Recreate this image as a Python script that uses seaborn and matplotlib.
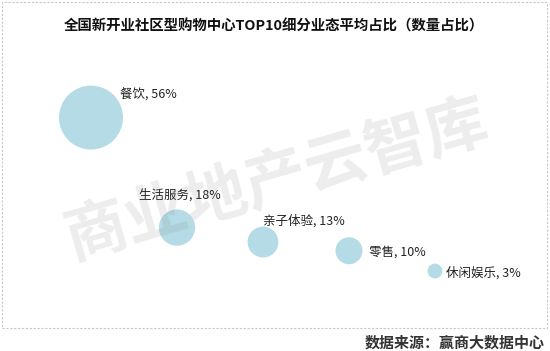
import pandas as pd
import matplotlib
matplotlib.use('Agg')
import matplotlib.pyplot as plt
from matplotlib.patches import Rectangle
import seaborn as sns

# chart data
categories = ['餐饮', '生活服务', '亲子体验', '零售', '休闲娱乐']
shares = [56, 18, 13, 10, 3]

title = '全国新开业社区型购物中心TOP10细分业态平均占比（数量占比）'
source = '数据来源：赢商大数据中心'
watermark = '商业地产云智库'

sns.set_theme(style='white')
plt.rcParams['font.family'] = ['Noto Sans CJK SC', 'DejaVu Sans']

df = pd.DataFrame({'category': categories, 'share': shares})

fig = plt.figure(figsize=(5.5, 3.51), dpi=100)
ax = fig.add_axes([48 / 550, 71.3 / 351, 430 / 550, 173.7 / 351])
ax.patch.set_alpha(0)

# bubble area proportional to share
sns.scatterplot(data=df, x='category', y='share', size='share',
                sizes=(0, 2123), size_norm=(0, 56), color='#b5dce6',
                edgecolor='none', alpha=1, legend=False, ax=ax, clip_on=False)

ax.set_xlim(-0.5, 4.5)
ax.set_ylim(0, 60)
ax.set_axis_off()

# label placement (ha, dx px, dy px)
label_pos = [('left', 29, 24), ('center', 3, 33), ('left', 0, 21),
             ('left', 20, -1), ('left', 11, -2)]
for i, (cat, val) in enumerate(zip(categories, shares)):
    ha, dx, dy = label_pos[i]
    ax.annotate(f'{cat}, {val}%', xy=(i, val), xytext=(dx, dy),
                textcoords='offset pixels', ha=ha, va='center',
                fontsize=9, color='#222222')

fig.text(274 / 550, 1 - 26 / 351, title, ha='center', va='center',
         fontsize=10.4, fontweight='bold', color='#111111')

# dashed frame
fig.patches.append(Rectangle((2 / 550, 1 - 328 / 351), 545 / 550, 326 / 351,
                             transform=fig.transFigure, fill=False,
                             edgecolor='#c8c8c8', lw=0.8, ls=(0, (2, 1.5))))

fig.text(545 / 550, 1 - 343 / 351, source, ha='right', va='center',
         fontsize=10.8, fontweight='bold', color='#333333')

fig.text(277 / 550, 1 - 181 / 351, watermark, ha='center', va='center',
         rotation=16, fontsize=45, fontweight='bold', color='#707070',
         alpha=0.13, zorder=10)

fig.savefig('out.png', dpi=100, facecolor='white')
